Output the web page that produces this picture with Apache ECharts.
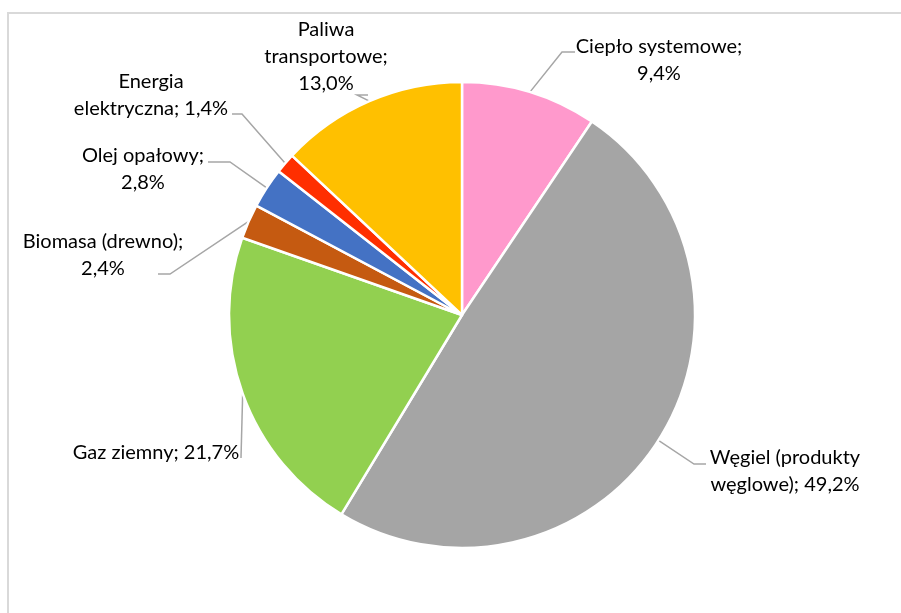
<!DOCTYPE html>
<html><head><meta charset="utf-8">
<script src="https://cdn.jsdelivr.net/npm/echarts@6/dist/echarts.min.js"></script>
<style>html,body{margin:0;padding:0;background:#fff}#c{width:901px;height:613px}</style>
</head><body><div id="c"></div>
<script>
// Data
const categories = ['Ciepło systemowe', 'Węgiel (produkty\nwęglowe)', 'Gaz ziemny', 'Biomasa (drewno)', 'Olej opałowy', 'Energia\nelektryczna', 'Paliwa\ntransportowe'];
const values = [9.4, 49.2, 21.7, 2.4, 2.8, 1.4, 13.0];
const separators = [';\n', '; ', '; ', ';\n', ';\n', '; ', ';\n'];
const colors = ['#FF99CC', '#A5A5A5', '#92D050', '#C55A11', '#4472C4', '#FF2F00', '#FFC000'];

// Layout (label placement, not data)
const CX = 462, CY = 315, R = 233;
const labelPos = [
  {x: 659, y: 60, line: [[562, 52], [575, 52]]},
  {x: 785, y: 471, line: [[694, 464], [706, 464]]},
  {x: 156, y: 453, line: [[241, 458]]},
  {x: 103, y: 255, line: [[170, 274], [158, 274]]},
  {x: 143, y: 169, line: [[230, 162], [208, 162]]},
  {x: 151, y: 95, line: [[242, 114], [232, 114]]},
  {x: 326, y: 57, line: [[357, 95], [368, 95]]}
];

const total = values.reduce((a, b) => a + b, 0);
const midAngles = [];
let acc = 0;
values.forEach(v => { midAngles.push((acc + v / 2) / total * 2 * Math.PI); acc += v; });

const chart = echarts.init(document.getElementById('c'));
chart.setOption({
  animation: false,
  graphic: [{
    type: 'rect', shape: {x: 8, y: 13, width: 1000, height: 1000},
    style: {fill: 'none', stroke: '#D9D9D9', lineWidth: 2}, silent: true
  }],
  series: [{
    type: 'pie',
    center: [CX, CY],
    radius: R,
    startAngle: 90,
    clockwise: true,
    avoidLabelOverlap: false,
    itemStyle: {borderColor: '#fff', borderWidth: 2.5},
    label: {
      show: true,
      fontFamily: 'Lato',
      fontSize: 20,
      lineHeight: 27,
      color: '#000',
      align: 'center',
      formatter: p => p.name + separators[p.dataIndex] + p.value.toFixed(1).replace('.', ',') + '%'
    },
    labelLine: {show: true, lineStyle: {color: '#A6A6A6', width: 1.5}},
    labelLayout: function (params) {
      const i = params.dataIndex;
      const a = midAngles[i];
      const start = [CX + R * Math.sin(a), CY - R * Math.cos(a)];
      return {
        x: labelPos[i].x, y: labelPos[i].y,
        align: 'center', verticalAlign: 'middle',
        labelLinePoints: [start].concat(labelPos[i].line)
      };
    },
    data: categories.map((c, i) => ({name: c, value: values[i], itemStyle: {color: colors[i]}}))
  }]
});
</script></body></html>
